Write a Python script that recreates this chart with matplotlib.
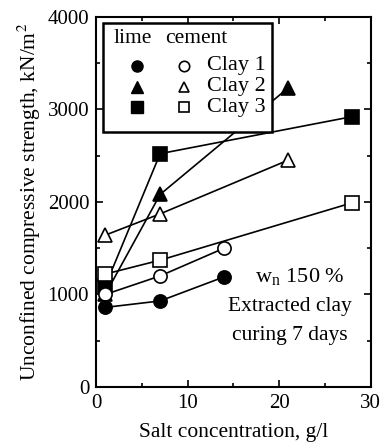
import matplotlib
matplotlib.use("Agg")
import matplotlib.pyplot as plt
from matplotlib.patches import Rectangle
from matplotlib.ticker import MultipleLocator

plt.rcParams['font.family'] = ['Liberation Serif', 'DejaVu Serif']
plt.rcParams['mathtext.fontset'] = 'stix'

# salt concentration (g/l) and strength (kN/m2)
clay1_x = [1, 7, 14]
clay1_lime = [860, 930, 1190]
clay1_cement = [1000, 1200, 1500]

clay2_x = [1, 7, 21]
clay2_lime = [1000, 2080, 3230]
clay2_cement = [1640, 1870, 2450]

clay3_x = [1, 7, 28]
clay3_lime = [1090, 2520, 2920]
clay3_cement = [1220, 1370, 1990]

series = [
    (clay2_x, clay2_lime, '^', 'k'),
    (clay3_x, clay3_lime, 's', 'k'),
    (clay2_x, clay2_cement, '^', 'w'),
    (clay3_x, clay3_cement, 's', 'w'),
    (clay1_x, clay1_cement, 'o', 'w'),
    (clay1_x, clay1_lime, 'o', 'k'),
]

fig = plt.figure(figsize=(3.86, 4.48), dpi=100)
ax = fig.add_axes([0.249, 0.136, 0.711, 0.827])

for xs, ys, mk, fc in series:
    ax.plot(xs, ys, color='k', lw=1.2, marker=mk, ms=9.5, mfc=fc, mec='k', mew=1.2, clip_on=False)

ax.set_xlim(0, 30)
ax.set_ylim(0, 4000)
ax.xaxis.set_major_locator(MultipleLocator(10))
ax.xaxis.set_minor_locator(MultipleLocator(5))
ax.yaxis.set_major_locator(MultipleLocator(1000))
ax.yaxis.set_minor_locator(MultipleLocator(500))
ax.tick_params(which='both', direction='in', top=True, right=True, labelsize=15, width=1.2)
ax.tick_params(which='major', length=5, pad=5)
ax.tick_params(which='minor', length=3)
for s in ax.spines.values():
    s.set_linewidth(1.5)

ax.set_xlabel('Salt concentration, g/l', fontsize=15.5, labelpad=7)
ax.set_ylabel('Unconfined compressive strength, kN/m$^2$', fontsize=15.5, labelpad=3)

ax.text(22.3, 1190, r'w$_\mathregular{n}$ 150 %', fontsize=16, ha='center', va='center')
ax.text(21.2, 875, 'Extracted clay', fontsize=15.5, ha='center', va='center')
ax.text(21.2, 560, 'curing 7 days', fontsize=15.5, ha='center', va='center')

# legend box
t = ax.transAxes
ax.add_patch(Rectangle((0.0255, 0.689), 0.615, 0.294, transform=t, fc='w', ec='k', lw=1.8, zorder=5))
ax.text(0.062, 0.94, 'lime', transform=t, fontsize=15.5, va='center', zorder=6)
ax.text(0.252, 0.94, 'cement', transform=t, fontsize=15.5, va='center', zorder=6)
rows = [('o', 'Clay 1', 0.867), ('^', 'Clay 2', 0.81), ('s', 'Clay 3', 0.755)]
for mk, label, yy in rows:
    ax.plot([0.148], [yy], transform=t, marker=mk, ms=8, mfc='k', mec='k', ls='none', zorder=6)
    ax.plot([0.320], [yy], transform=t, marker=mk, ms=7.5, mfc='w', mec='k', mew=1.2, ls='none', zorder=6)
    ax.text(0.405, yy, label, transform=t, fontsize=16, va='center', zorder=6)

fig.savefig('out.png', dpi=100)
